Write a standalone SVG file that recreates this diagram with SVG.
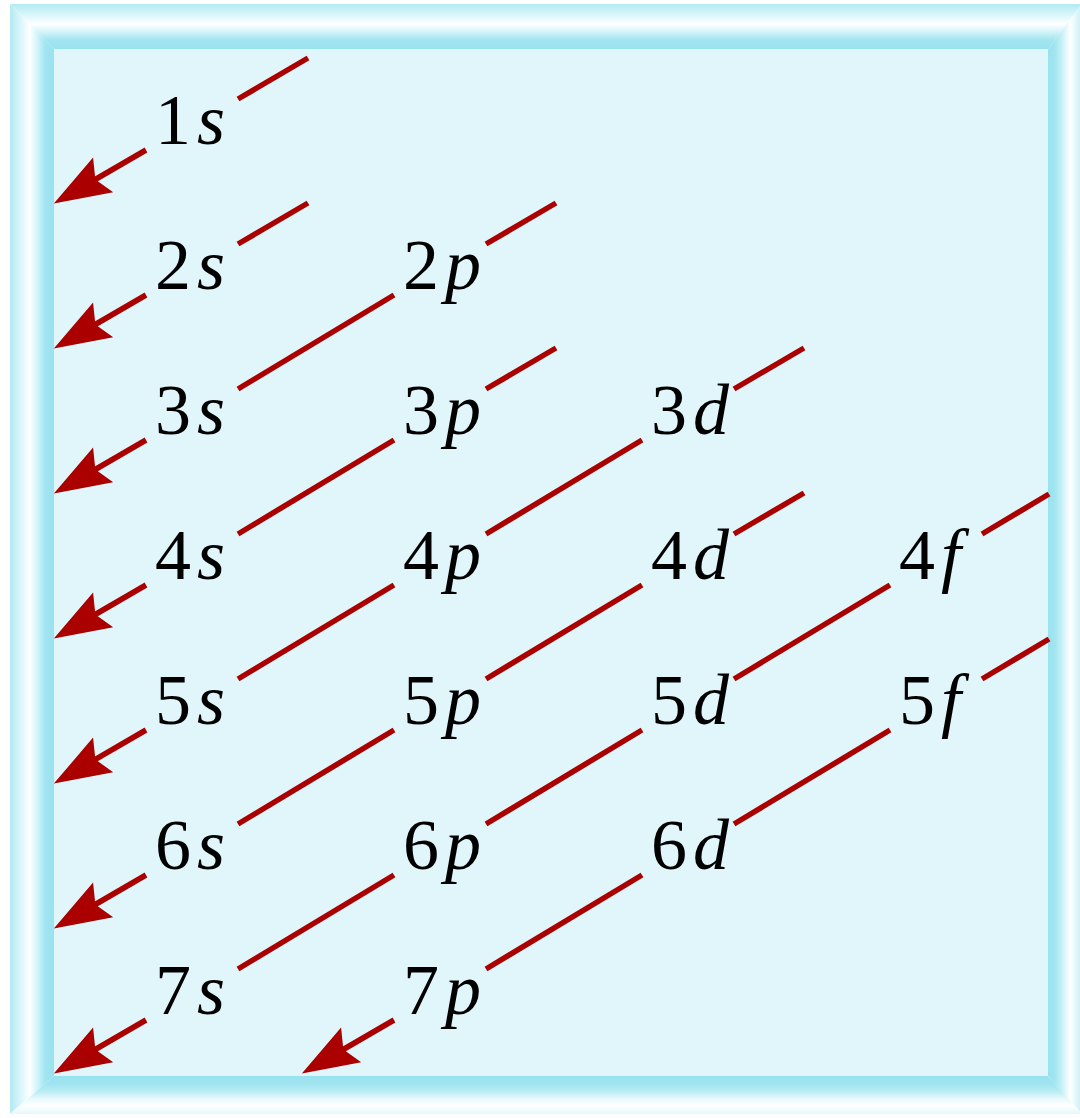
<svg xmlns="http://www.w3.org/2000/svg" width="1080" height="1118" viewBox="0 0 1080 1118">
  <style>
    .seg { stroke: #aa0000; stroke-width: 5.5; fill: none; stroke-linecap: butt; }
  </style>
  <defs>
    <linearGradient id="gL" gradientUnits="userSpaceOnUse" x1="10" y1="0" x2="54" y2="0">
      <stop offset="0" stop-color="#b2eaf3"/>
      <stop offset="0.22" stop-color="#d6f5fa"/>
      <stop offset="0.45" stop-color="#ffffff"/>
      <stop offset="0.62" stop-color="#d2f4f9"/>
      <stop offset="0.8" stop-color="#a2e5f0"/>
      <stop offset="1" stop-color="#98e2ef"/>
    </linearGradient>
    <linearGradient id="gT" gradientUnits="userSpaceOnUse" x1="0" y1="4" x2="0" y2="49">
      <stop offset="0" stop-color="#b2eaf3"/>
      <stop offset="0.22" stop-color="#d6f5fa"/>
      <stop offset="0.45" stop-color="#ffffff"/>
      <stop offset="0.62" stop-color="#d2f4f9"/>
      <stop offset="0.8" stop-color="#a2e5f0"/>
      <stop offset="1" stop-color="#98e2ef"/>
    </linearGradient>
    <linearGradient id="gR" gradientUnits="userSpaceOnUse" x1="1082" y1="0" x2="1048" y2="0">
      <stop offset="0" stop-color="#c4eff6"/>
      <stop offset="0.22" stop-color="#eafafc"/>
      <stop offset="0.35" stop-color="#ffffff"/>
      <stop offset="0.6" stop-color="#c6f0f7"/>
      <stop offset="0.8" stop-color="#a2e5f0"/>
      <stop offset="1" stop-color="#98e2ef"/>
    </linearGradient>
    <linearGradient id="gB" gradientUnits="userSpaceOnUse" x1="0" y1="1114" x2="0" y2="1076">
      <stop offset="0" stop-color="#e4f8fb"/>
      <stop offset="0.22" stop-color="#ffffff"/>
      <stop offset="0.4" stop-color="#e8f9fc"/>
      <stop offset="0.62" stop-color="#b4ebf3"/>
      <stop offset="0.8" stop-color="#a0e4f0"/>
      <stop offset="1" stop-color="#98e2ef"/>
    </linearGradient>
    <marker id="head" markerUnits="userSpaceOnUse" viewBox="0 -21 62 42" markerWidth="62" markerHeight="42" refX="36" refY="0" orient="auto" overflow="visible">
      <path d="M57,0 L0,-20 L9,0 L0,20 Z" fill="#aa0000"/>
    </marker>
  </defs>

  <rect x="0" y="0" width="1080" height="1118" fill="#ffffff"/>
  <polygon points="10,4 54,49 54,1076 10,1114" fill="url(#gL)"/>
  <polygon points="10,4 1082,4 1048,49 54,49" fill="url(#gT)"/>
  <polygon points="1082,4 1082,1114 1048,1076 1048,49" fill="url(#gR)"/>
  <polygon points="10,1114 54,1076 1048,1076 1082,1114" fill="url(#gB)"/>
  <rect x="54" y="49" width="994" height="1027" fill="#e0f6fa"/>

  <g id="connectors">
    <line class="seg" x1="238" y1="99" x2="308" y2="58"/>
    <line class="seg" x1="238" y1="244" x2="308" y2="203"/>
    <line class="seg" x1="486" y1="244" x2="556" y2="203"/>
    <line class="seg" x1="486" y1="389" x2="556" y2="348"/>
    <line class="seg" x1="734" y1="389" x2="804" y2="348"/>
    <line class="seg" x1="734" y1="534" x2="804" y2="493"/>
    <line class="seg" x1="982" y1="534" x2="1049" y2="494"/>
    <line class="seg" x1="982" y1="679" x2="1049" y2="639"/>
    <line class="seg" x1="394" y1="295" x2="238" y2="389"/>
    <line class="seg" x1="394" y1="440" x2="238" y2="534"/>
    <line class="seg" x1="642" y1="440" x2="486" y2="534"/>
    <line class="seg" x1="394" y1="585" x2="238" y2="679"/>
    <line class="seg" x1="642" y1="585" x2="486" y2="679"/>
    <line class="seg" x1="394" y1="730" x2="238" y2="824"/>
    <line class="seg" x1="890" y1="585" x2="734" y2="679"/>
    <line class="seg" x1="642" y1="730" x2="486" y2="824"/>
    <line class="seg" x1="394" y1="875" x2="238" y2="969"/>
    <line class="seg" x1="890" y1="730" x2="734" y2="824"/>
    <line class="seg" x1="642" y1="875" x2="486" y2="969"/>
    <line class="seg" x1="146" y1="150" x2="72" y2="193" marker-end="url(#head)"/>
    <line class="seg" x1="146" y1="295" x2="72" y2="338" marker-end="url(#head)"/>
    <line class="seg" x1="146" y1="440" x2="72" y2="483" marker-end="url(#head)"/>
    <line class="seg" x1="146" y1="585" x2="72" y2="628" marker-end="url(#head)"/>
    <line class="seg" x1="146" y1="730" x2="72" y2="773" marker-end="url(#head)"/>
    <line class="seg" x1="146" y1="875" x2="72" y2="918" marker-end="url(#head)"/>
    <line class="seg" x1="146" y1="1020" x2="72" y2="1063" marker-end="url(#head)"/>
    <line class="seg" x1="394" y1="1020" x2="320" y2="1063" marker-end="url(#head)"/>
  </g>

  <g id="n1s"><text x="155" y="144" font-size="72" font-family="'Liberation Serif'">1<tspan font-style="italic" dx="6">s</tspan></text></g>
  <g id="n2s"><text x="155" y="289" font-size="72" font-family="'Liberation Serif'">2<tspan font-style="italic" dx="6">s</tspan></text></g>
  <g id="n2p"><text x="403" y="289" font-size="72" font-family="'Liberation Serif'">2<tspan font-style="italic" dx="6">p</tspan></text></g>
  <g id="n3s"><text x="155" y="434" font-size="72" font-family="'Liberation Serif'">3<tspan font-style="italic" dx="6">s</tspan></text></g>
  <g id="n3p"><text x="403" y="434" font-size="72" font-family="'Liberation Serif'">3<tspan font-style="italic" dx="6">p</tspan></text></g>
  <g id="n3d"><text x="651" y="434" font-size="72" font-family="'Liberation Serif'">3<tspan font-style="italic" dx="6">d</tspan></text></g>
  <g id="n4s"><text x="155" y="579" font-size="72" font-family="'Liberation Serif'">4<tspan font-style="italic" dx="6">s</tspan></text></g>
  <g id="n4p"><text x="403" y="579" font-size="72" font-family="'Liberation Serif'">4<tspan font-style="italic" dx="6">p</tspan></text></g>
  <g id="n4d"><text x="651" y="579" font-size="72" font-family="'Liberation Serif'">4<tspan font-style="italic" dx="6">d</tspan></text></g>
  <g id="n4f"><text x="899" y="579" font-size="72" font-family="'Liberation Serif'">4<tspan font-style="italic" dx="6">f</tspan></text></g>
  <g id="n5s"><text x="155" y="724" font-size="72" font-family="'Liberation Serif'">5<tspan font-style="italic" dx="6">s</tspan></text></g>
  <g id="n5p"><text x="403" y="724" font-size="72" font-family="'Liberation Serif'">5<tspan font-style="italic" dx="6">p</tspan></text></g>
  <g id="n5d"><text x="651" y="724" font-size="72" font-family="'Liberation Serif'">5<tspan font-style="italic" dx="6">d</tspan></text></g>
  <g id="n5f"><text x="899" y="724" font-size="72" font-family="'Liberation Serif'">5<tspan font-style="italic" dx="6">f</tspan></text></g>
  <g id="n6s"><text x="155" y="869" font-size="72" font-family="'Liberation Serif'">6<tspan font-style="italic" dx="6">s</tspan></text></g>
  <g id="n6p"><text x="403" y="869" font-size="72" font-family="'Liberation Serif'">6<tspan font-style="italic" dx="6">p</tspan></text></g>
  <g id="n6d"><text x="651" y="869" font-size="72" font-family="'Liberation Serif'">6<tspan font-style="italic" dx="6">d</tspan></text></g>
  <g id="n7s"><text x="155" y="1014" font-size="72" font-family="'Liberation Serif'">7<tspan font-style="italic" dx="6">s</tspan></text></g>
  <g id="n7p"><text x="403" y="1014" font-size="72" font-family="'Liberation Serif'">7<tspan font-style="italic" dx="6">p</tspan></text></g>
</svg>
